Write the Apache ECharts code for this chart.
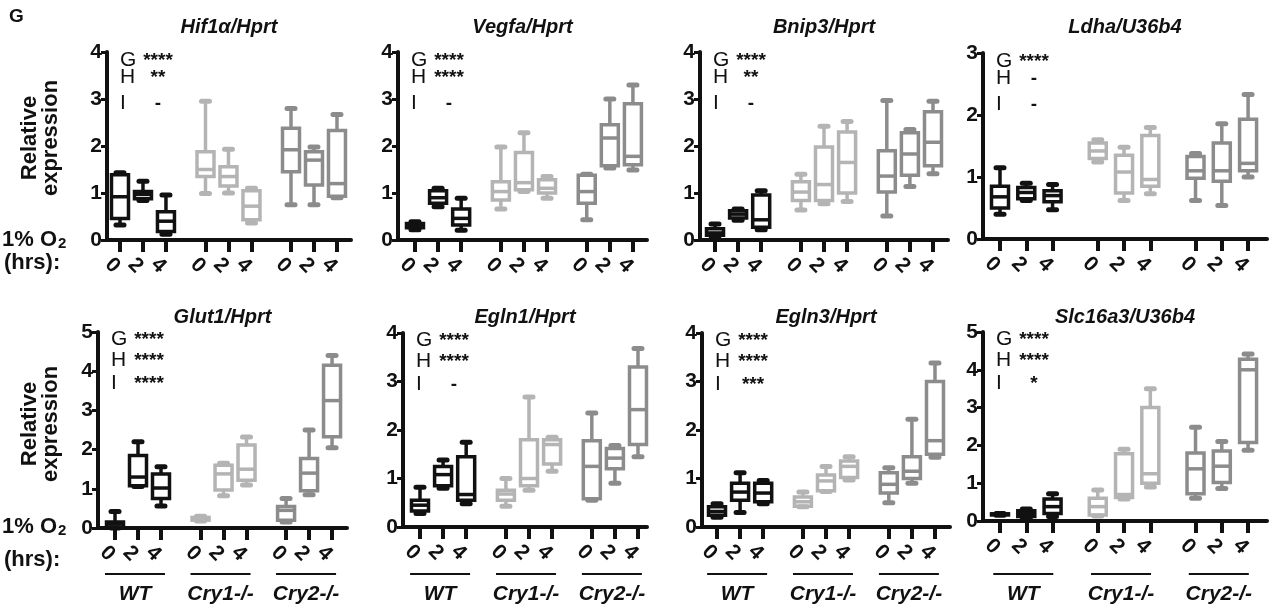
<!DOCTYPE html>
<html>
<head>
<meta charset="utf-8">
<script src="https://cdn.jsdelivr.net/npm/echarts@6/dist/echarts.min.js"></script>
<style>
  html, body { margin: 0; padding: 0; background: #fff; }
  #main { width: 1274px; height: 611px; }
</style>
</head>
<body>
<div id="main"></div>
<script>
var hours = ['0', '2', '4'];
var genotypes = ['WT', 'Cry1-/-', 'Cry2-/-'];
var titles = ['Hif1α/Hprt', 'Vegfa/Hprt', 'Bnip3/Hprt', 'Ldha/U36b4',
              'Glut1/Hprt', 'Egln1/Hprt', 'Egln3/Hprt', 'Slc16a3/U36b4'];
var yMaxes = [4, 4, 4, 3, 5, 4, 4, 5];
var testLetters = ['G', 'H', 'I'];
var signif = [
    ['****', '**', '-'],
    ['****', '****', '-'],
    ['****', '**', '-'],
    ['****', '-', '-'],
    ['****', '****', '****'],
    ['****', '****', '-'],
    ['****', '****', '***'],
    ['****', '****', '*']
];

// box = [min, Q1, median, Q3, max]; order WT 0/2/4, Cry1 0/2/4, Cry2 0/2/4
var hif1a = [[0.32, 0.46, 0.92, 1.39, 1.43], [0.84, 0.88, 0.97, 1.03, 1.25], [0.12, 0.18, 0.4, 0.6, 0.96],
             [0.99, 1.35, 1.5, 1.88, 2.95], [1.0, 1.15, 1.35, 1.56, 1.93], [0.36, 0.43, 0.72, 1.05, 1.1],
             [0.75, 1.45, 1.92, 2.38, 2.8], [0.75, 1.17, 1.7, 1.88, 1.98], [0.9, 0.93, 1.2, 2.33, 2.67]];
var vegfa = [[0.22, 0.26, 0.3, 0.35, 0.39], [0.71, 0.78, 0.9, 1.05, 1.1], [0.21, 0.32, 0.46, 0.66, 0.89],
             [0.66, 0.85, 1.03, 1.24, 1.98], [1.03, 1.07, 1.22, 1.86, 2.28], [0.89, 1.0, 1.1, 1.28, 1.35],
             [0.43, 0.78, 1.03, 1.38, 1.4], [1.53, 1.58, 2.17, 2.45, 3.0], [1.49, 1.6, 1.78, 2.9, 3.3]];
var bnip3 = [[0.08, 0.1, 0.15, 0.24, 0.34], [0.42, 0.47, 0.55, 0.62, 0.66], [0.22, 0.27, 0.43, 0.96, 1.05],
             [0.64, 0.84, 1.02, 1.24, 1.4], [0.77, 0.84, 1.18, 1.98, 2.42], [0.82, 1.0, 1.65, 2.3, 2.52],
             [0.51, 1.02, 1.36, 1.9, 2.97], [1.14, 1.38, 1.83, 2.28, 2.35], [1.41, 1.58, 2.08, 2.73, 2.95]];
var ldha = [[0.4, 0.5, 0.68, 0.85, 1.15], [0.62, 0.65, 0.75, 0.83, 0.9], [0.47, 0.6, 0.7, 0.78, 0.88],
            [1.24, 1.3, 1.42, 1.55, 1.6], [0.62, 0.74, 1.08, 1.35, 1.48], [0.73, 0.85, 0.96, 1.67, 1.8],
            [0.62, 0.98, 1.1, 1.33, 1.38], [0.54, 0.93, 1.1, 1.55, 1.86], [1.0, 1.1, 1.22, 1.93, 2.33]];
var glut1 = [[0.0, 0.02, 0.1, 0.15, 0.42], [1.06, 1.08, 1.3, 1.85, 2.2], [0.56, 0.75, 1.02, 1.38, 1.56],
             [0.18, 0.2, 0.24, 0.27, 0.3], [0.82, 0.97, 1.38, 1.6, 1.65], [1.1, 1.22, 1.5, 2.12, 2.32],
             [0.15, 0.2, 0.45, 0.55, 0.75], [0.85, 0.95, 1.4, 1.77, 2.5], [2.05, 2.33, 3.25, 4.15, 4.4]];
var egln1 = [[0.28, 0.33, 0.45, 0.55, 0.82], [0.8, 0.85, 1.08, 1.25, 1.38], [0.48, 0.55, 0.67, 1.45, 1.75],
             [0.43, 0.55, 0.68, 0.76, 1.0], [0.76, 0.85, 1.0, 1.8, 2.68], [1.15, 1.3, 1.7, 1.8, 1.85],
             [0.55, 0.58, 1.25, 1.78, 2.35], [0.9, 1.2, 1.42, 1.62, 1.68], [1.45, 1.7, 2.42, 3.3, 3.68]];
var egln3 = [[0.2, 0.24, 0.32, 0.42, 0.48], [0.3, 0.55, 0.72, 0.9, 1.12], [0.48, 0.52, 0.7, 0.9, 0.96],
             [0.42, 0.43, 0.52, 0.62, 0.72], [0.73, 0.75, 0.95, 1.07, 1.25], [0.97, 1.02, 1.25, 1.36, 1.45],
             [0.5, 0.7, 0.88, 1.12, 1.22], [0.9, 1.0, 1.15, 1.45, 2.22], [1.44, 1.5, 1.78, 3.0, 3.38]];
var slc16a3 = [[0.15, 0.16, 0.18, 0.19, 0.2], [0.08, 0.12, 0.2, 0.27, 0.32], [0.12, 0.2, 0.38, 0.58, 0.72],
               [0.13, 0.16, 0.38, 0.6, 0.82], [0.58, 0.62, 0.7, 1.78, 1.9], [0.9, 1.0, 1.25, 3.0, 3.5],
               [0.6, 0.72, 1.38, 1.8, 2.48], [0.86, 1.02, 1.45, 1.85, 2.1], [1.87, 2.08, 4.0, 4.28, 4.42]];

var panelData = [hif1a, vegfa, bnip3, ldha, glut1, egln1, egln3, slc16a3];

var groupColors = ['#111111', '#b4b4b4', '#8c8c8c'];
var FONT = '"Liberation Sans", Arial, sans-serif';
var GROUP_STEP = 3.72; // 组间距 (含空隙)

// x 位置: 组号 * 组间距 + 时间序号
var positions = [];
genotypes.forEach(function (g, gi) {
    hours.forEach(function (h, hi) { positions.push(gi * GROUP_STEP + hi); });
});

// 各小图位置
var layout = [
    {left: 107, top: 52, width: 244, height: 188, min: -0.565, max: 10.05},
    {left: 398, top: 52, width: 249, height: 188, min: -0.736, max: 10.05},
    {left: 700, top: 52, width: 248, height: 188, min: -0.65, max: 10.09},
    {left: 983, top: 53, width: 284, height: 186, min: -0.647, max: 10.16},
    {left: 98, top: 332, width: 249, height: 196, min: -0.74, max: 10.09},
    {left: 403, top: 333, width: 244, height: 194, min: -0.736, max: 9.83},
    {left: 702, top: 333, width: 248, height: 194, min: -0.65, max: 10.09},
    {left: 983, top: 332, width: 284, height: 189, min: -0.647, max: 10.16}
];

function hourLabel(v) {
    for (var j = 0; j < positions.length; j++) {
        if (Math.abs(positions[j] - v) < 0.01) return hours[j % 3];
    }
    return '';
}

function renderBox(params, api) {
    var x = api.value(0);
    var lo = api.coord([x, api.value(1)]);
    var q1 = api.coord([x, api.value(2)]);
    var md = api.coord([x, api.value(3)]);
    var q3 = api.coord([x, api.value(4)]);
    var hi = api.coord([x, api.value(5)]);
    var color = groupColors[api.value(6)];
    var cx = lo[0], bw = 8.5, cw = 4;
    var line = {stroke: color, lineWidth: 3.5, fill: null};
    var cap = {stroke: color, lineWidth: 5, lineCap: 'round', fill: null};
    return {
        type: 'group',
        children: [
            {type: 'line', shape: {x1: cx, y1: lo[1], x2: cx, y2: q1[1]}, style: line},
            {type: 'line', shape: {x1: cx, y1: q3[1], x2: cx, y2: hi[1]}, style: line},
            {type: 'line', shape: {x1: cx - cw, y1: lo[1], x2: cx + cw, y2: lo[1]}, style: cap},
            {type: 'line', shape: {x1: cx - cw, y1: hi[1], x2: cx + cw, y2: hi[1]}, style: cap},
            {type: 'rect', shape: {x: cx - bw, y: q3[1], width: 2 * bw, height: q1[1] - q3[1]}, style: line},
            {type: 'line', shape: {x1: cx - bw, y1: md[1], x2: cx + bw, y2: md[1]}, style: line}
        ]
    };
}

function renderGroupLabel(params, api) {
    var p = api.coord([api.value(0), 0]);
    return {
        type: 'group',
        children: [
            {type: 'line', shape: {x1: p[0] - 33, y1: 574, x2: p[0] + 27, y2: 574},
             style: {stroke: '#111', lineWidth: 2}},
            {type: 'text', x: p[0] - 3, y: 594,
             style: {text: genotypes[api.value(1)], textAlign: 'center', textVerticalAlign: 'middle',
                     font: 'italic bold 21px ' + FONT, fill: '#111'}}
        ]
    };
}

var grids = [], xAxes = [], yAxes = [], series = [], graphics = [];

layout.forEach(function (L, k) {
    var bottomRow = k >= 4;
    grids.push({left: L.left, top: L.top, width: L.width, height: L.height});
    xAxes.push({
        gridIndex: k, type: 'value', min: L.min, max: L.max,
        splitLine: {show: false},
        axisLine: {onZero: false, lineStyle: {color: '#111', width: 4}},
        axisTick: {customValues: positions, length: 12, lineStyle: {color: '#111', width: 4}},
        axisLabel: {
            customValues: positions, formatter: hourLabel, rotate: -45,
            align: 'center', verticalAlign: 'top', margin: 18,
            fontSize: 21, fontWeight: 'bold', fontFamily: FONT, color: '#111'
        }
    });
    yAxes.push({
        gridIndex: k, type: 'value', min: 0, max: yMaxes[k], interval: 1,
        splitLine: {show: false},
        axisLine: {show: true, onZero: false, lineStyle: {color: '#111', width: 4}},
        axisTick: {show: true, length: 6, lineStyle: {color: '#111', width: 3}},
        axisLabel: {fontSize: 21, fontWeight: 'bold', fontFamily: FONT, color: '#111', margin: 5}
    });
    series.push({
        type: 'custom', xAxisIndex: k, yAxisIndex: k, clip: false,
        encode: {x: 0, y: [1, 2, 3, 4, 5]},
        renderItem: renderBox,
        data: panelData[k].map(function (b, j) {
            return [positions[j]].concat(b).concat([Math.floor(j / 3)]);
        })
    });
    if (bottomRow) {
        series.push({
            type: 'custom', xAxisIndex: k, yAxisIndex: k, clip: false, silent: true,
            renderItem: renderGroupLabel,
            encode: {x: 0, y: 2},
            data: genotypes.map(function (g, gi) { return [positions[gi * 3 + 1], gi, 0]; })
        });
    }

    // 标题
    graphics.push({
        type: 'text', x: L.left + L.width / 2, y: bottomRow ? 317 : 27,
        style: {text: titles[k], textAlign: 'center', textVerticalAlign: 'middle',
                font: 'italic bold 20px ' + FONT, fill: '#111'}
    });
    // 显著性标注
    var rowOffsets = bottomRow ? [7, 28, 51] : [8, 25, 51];
    testLetters.forEach(function (letter, r) {
        graphics.push({
            type: 'text', x: L.left + 13, y: L.top + rowOffsets[r],
            style: {text: letter, textAlign: 'left', textVerticalAlign: 'middle',
                    font: '21px ' + FONT, fill: '#111'}
        });
        graphics.push({
            type: 'text', x: L.left + 51, y: L.top + rowOffsets[r] + 1,
            style: {text: signif[k][r], textAlign: 'center', textVerticalAlign: 'middle',
                    font: 'bold 19px ' + FONT, fill: '#111'}
        });
    });
});

// 左侧说明文字
[138, 424].forEach(function (cy) {
    graphics.push({
        type: 'text', x: 40, y: cy, rotation: Math.PI / 2,
        style: {text: 'Relative\nexpression', textAlign: 'center', textVerticalAlign: 'middle',
                font: 'bold 22px ' + FONT, lineHeight: 21, fill: '#111'}
    });
});
[[240, 263], [527, 560]].forEach(function (ys) {
    graphics.push({type: 'text', x: 2, y: ys[0],
        style: {text: '1% O', textAlign: 'left', textVerticalAlign: 'middle', font: 'bold 22px ' + FONT, fill: '#111'}});
    graphics.push({type: 'text', x: 58, y: ys[0] + 4,
        style: {text: '2', textAlign: 'left', textVerticalAlign: 'middle', font: 'bold 15px ' + FONT, fill: '#111'}});
    graphics.push({type: 'text', x: 4, y: ys[1],
        style: {text: '(hrs):', textAlign: 'left', textVerticalAlign: 'middle', font: 'bold 22px ' + FONT, fill: '#111'}});
});
graphics.push({type: 'text', x: 9, y: 17,
    style: {text: 'G', textAlign: 'left', textVerticalAlign: 'middle', font: 'bold 19px ' + FONT, fill: '#111'}});

var chart = echarts.init(document.getElementById('main'));
chart.setOption({
    backgroundColor: '#fff',
    animation: false,
    grid: grids,
    xAxis: xAxes,
    yAxis: yAxes,
    series: series,
    graphic: graphics
});
</script>
</body>
</html>
